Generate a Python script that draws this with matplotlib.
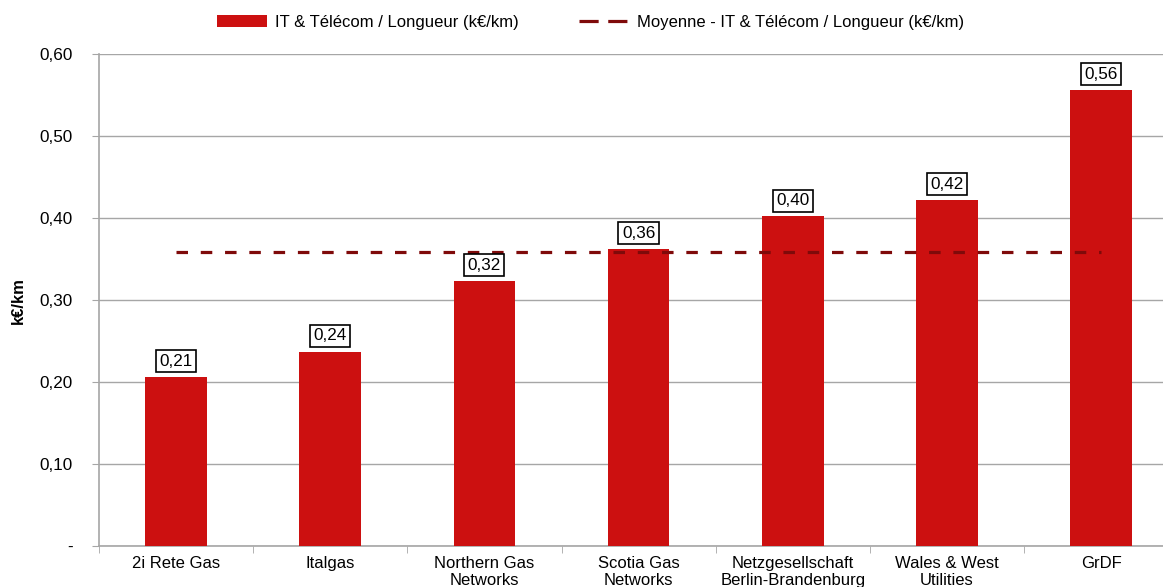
import matplotlib.pyplot as plt
import matplotlib.ticker as mticker
from matplotlib.lines import Line2D

plt.rcParams['font.family'] = ['Liberation Sans', 'DejaVu Sans']

# données
categories = ['2i Rete Gas', 'Italgas', 'Northern Gas\nNetworks', 'Scotia Gas\nNetworks',
              'Netzgesellschaft\nBerlin-Brandenburg', 'Wales & West\nUtilities', 'GrDF']
valeurs = [0.206, 0.237, 0.323, 0.362, 0.402, 0.422, 0.556]
moyenne = 0.359
yticks = [0, 0.1, 0.2, 0.3, 0.4, 0.5, 0.6]

rouge = '#cc1010'
rouge_fonce = '#7f0a0a'
gris = '#a6a6a6'

fig = plt.figure(figsize=(11.63, 5.87), dpi=100)
ax = fig.add_axes([0.0851, 0.0698, 0.928, 0.838])

x = list(range(len(categories)))
barres = ax.bar(x, valeurs, width=0.4, color=rouge, zorder=3,
                label='IT & Télécom / Longueur (k€/km)')
ax.plot([x[0], x[-1]], [moyenne, moyenne], color=rouge_fonce, lw=2.3,
        linestyle=(0, (3.6, 4)), zorder=4)

# étiquettes de valeur encadrées
for xi, v in zip(x, valeurs):
    ax.annotate(f'{v:.2f}'.replace('.', ','), (xi, v), xytext=(0, 6),
                textcoords='offset points', ha='center', va='bottom', fontsize=12.3,
                bbox=dict(boxstyle='square,pad=0.2', fc='white', ec='black', lw=1.2),
                zorder=5)

ax.set_xlim(-0.5, len(categories) - 0.5)
ax.set_ylim(0, 0.6)
ax.set_yticks(yticks)
ax.yaxis.set_major_formatter(mticker.FuncFormatter(
    lambda v, p: '-' if abs(v) < 1e-9 else f'{v:.2f}'.replace('.', ',')))
ax.set_xticks(x)
ax.set_xticklabels(categories, fontsize=12, linespacing=1.2)
ax.set_xticks([i - 0.5 for i in range(len(categories) + 1)], minor=True)
ax.tick_params(axis='x', which='major', length=0, pad=7)
ax.tick_params(axis='x', which='minor', length=5, color=gris)
ax.tick_params(axis='y', length=5, color=gris, labelsize=12.3, pad=14)

ax.grid(axis='y', color=gris, lw=1, zorder=0)
for s in ['top', 'right']:
    ax.spines[s].set_visible(False)
for s in ['left', 'bottom']:
    ax.spines[s].set_color(gris)
    ax.spines[s].set_linewidth(1.2)

ax.set_ylabel('k€/km', fontsize=12, fontweight='bold')
ax.yaxis.set_label_coords(-0.068, 0.5)

# légende (ligne proxy pour avoir deux tirets)
ligne_leg = Line2D([], [], color=rouge_fonce, lw=2.3, linestyle=(0, (6, 3)),
                   label='Moyenne - IT & Télécom / Longueur (k€/km)')
fig.legend(handles=[barres, ligne_leg], loc='upper center', bbox_to_anchor=(0.508, 1.0),
           ncol=2, frameon=False, fontsize=12, handlelength=3.0,
           columnspacing=3.6, handletextpad=0.5)

plt.savefig('out.png', dpi=100)
